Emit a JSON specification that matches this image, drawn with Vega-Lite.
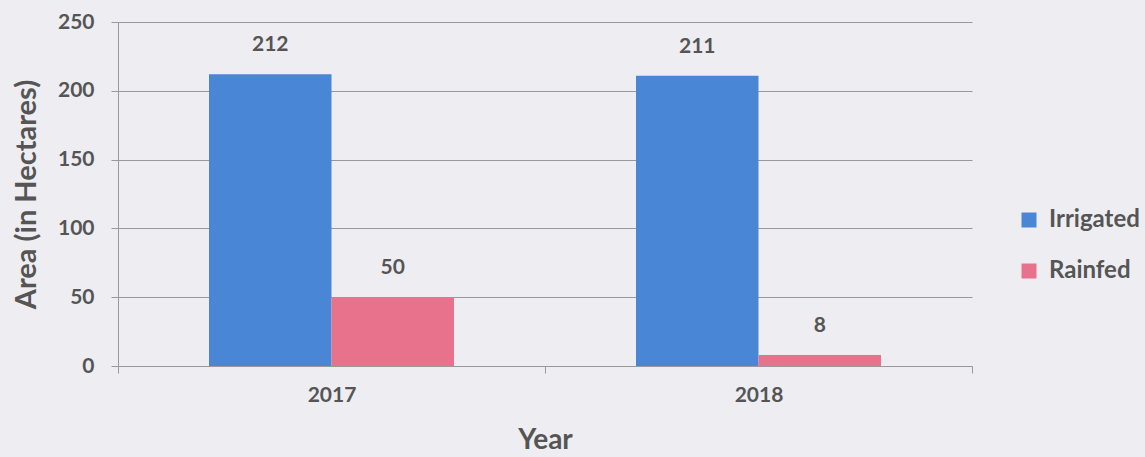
{
  "$schema": "https://vega.github.io/schema/vega-lite/v6.json",
  "autosize": "none",
  "width": 854,
  "height": 344,
  "padding": {"left": 118, "top": 22, "right": 173, "bottom": 91},
  "background": "#eeeef2",
  "config": {
    "view": {"stroke": null},
    "font": "Lato",
    "axis": {"labelColor": "#555555", "titleColor": "#555555", "labelFont": "Lato", "titleFont": "Lato"}
  },
  "data": {
    "values": [
      {"Year": "2017", "Type": "Irrigated", "Area": 212},
      {"Year": "2017", "Type": "Rainfed", "Area": 50},
      {"Year": "2018", "Type": "Irrigated", "Area": 211},
      {"Year": "2018", "Type": "Rainfed", "Area": 8}
    ]
  },
  "encoding": {
    "x": {
      "field": "Year", "type": "nominal",
      "scale": {"paddingInner": 0, "paddingOuter": 0},
      "axis": {
        "title": "Year", "labelAngle": 0, "tickBand": "extent", "grid": false,
        "domainColor": "#999999", "tickColor": "#999999", "tickSize": 7,
        "labelFontSize": 21, "labelPadding": 11, "labelFontWeight": "bold",
        "titleFontSize": 28, "titleFontWeight": "bold", "titleY": 74, "titleBaseline": "middle"
      }
    },
    "xOffset": {"field": "Type", "type": "nominal", "scale": {"paddingInner": 0, "paddingOuter": 0.743}},
    "y": {
      "field": "Area", "type": "quantitative",
      "scale": {"domain": [0, 250]},
      "axis": {
        "title": "Area (in Hectares)", "values": [0, 50, 100, 150, 200, 250],
        "gridColor": "#999999", "domainColor": "#999999", "tickColor": "#999999", "tickSize": 7,
        "labelFontSize": 21, "labelPadding": 17, "labelFontWeight": "bold",
        "titleFontSize": 29, "titleFontWeight": "bold", "titleX": -92, "titleBaseline": "middle"
      }
    }
  },
  "layer": [
    {
      "mark": {"type": "bar"},
      "encoding": {
        "color": {
          "field": "Type", "type": "nominal",
          "scale": {"domain": ["Irrigated", "Rainfed"], "range": ["#4a86d6", "#e8728c"]},
          "legend": {
            "title": null, "orient": "none", "legendX": 899, "legendY": 186, "padding": 0,
            "symbolType": "square", "symbolSize": 225, "symbolStrokeWidth": 0,
            "labelFontSize": 24, "labelFontWeight": "bold", "labelColor": "#555555",
            "rowPadding": 27, "labelOffset": 8
          }
        }
      }
    },
    {
      "mark": {"type": "text", "dy": -29, "fontSize": 21, "fontWeight": "bold", "color": "#555555", "font": "Lato"},
      "encoding": {"text": {"field": "Area", "type": "quantitative"}}
    }
  ]
}
